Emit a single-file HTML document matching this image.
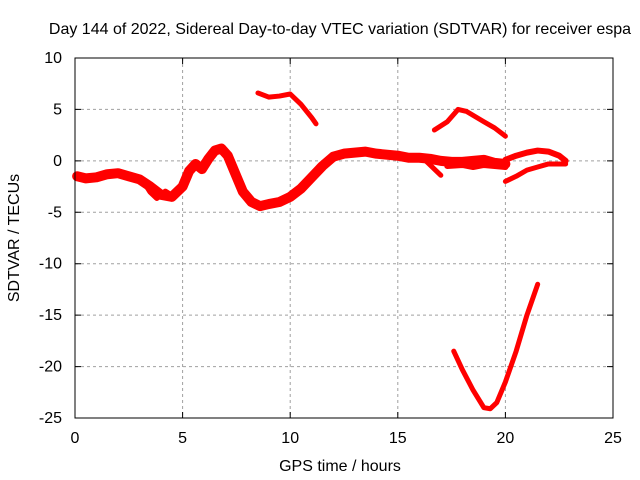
<!DOCTYPE html>
<html><head><meta charset="utf-8"><style>
body{margin:0;background:#fff}
svg{display:block;font-family:"Liberation Sans",sans-serif}
</style></head><body>
<svg id="c" width="640" height="480">
<rect width="640" height="480" fill="#fff"/>
<text x="340" y="34" font-size="16" text-anchor="middle">Day 144 of 2022, Sidereal Day-to-day VTEC variation (SDTVAR) for receiver espa</text>
<text x="340" y="471" font-size="16" text-anchor="middle">GPS time / hours</text>
<text transform="translate(19,238) rotate(-90)" font-size="16" text-anchor="middle">SDTVAR / TECUs</text>
<g id="grid"></g><g id="series"></g>
<rect x="75" y="58" width="538" height="360" fill="none" stroke="#000" stroke-width="1"/>
</svg>
<script>
const xTicks=[0,5,10,15,20,25];
const yTicks=[10,5,0,-5,-10,-15,-20,-25];
const mainT=[0.1,0.5,1,1.5,2,2.5,3,3.5,4,4.5,5,5.3,5.6,5.9,6.2,6.5,6.8,7.1,7.5,7.8,8.2,8.6,9,9.5,10,10.5,11,11.5,12,12.5,13,13.5,14,15,15.5,16,16.5,17,17.5,18,18.5,19,19.5,20];
const mainV=[-1.5,-1.7,-1.6,-1.3,-1.2,-1.5,-1.8,-2.5,-3.3,-3.5,-2.5,-1.0,-0.3,-0.8,0.2,1.0,1.2,0.5,-1.5,-3.0,-4.0,-4.4,-4.2,-4.0,-3.5,-2.7,-1.6,-0.5,0.4,0.7,0.8,0.9,0.7,0.5,0.3,0.3,0.2,0.0,-0.1,-0.1,0.0,0.1,-0.2,-0.3];
const loopT=[3.2,3.5,3.8,4.2,4.5];
const loopV=[-2.0,-3.0,-3.6,-3.0,-3.4];
const dipT=[16.3,16.8,17.0];
const dipV=[0.0,-1.0,-1.4];
const lowT=[17.3,18,18.5,19,19.5,20];
const lowV=[-0.5,-0.4,-0.6,-0.4,-0.5,-0.6];
const bT=[8.5,9,9.5,10,10.5,11,11.2];
const bV=[6.6,6.2,6.3,6.5,5.5,4.2,3.6];
const cT=[16.7,17.3,17.8,18.2,19,19.5,20];
const cV=[3.0,3.8,5.0,4.8,3.8,3.2,2.4];
const dT=[20,20.5,21,21.5,22,22.5,22.8];
const dV=[0.1,0.5,0.8,1.0,0.9,0.5,0.0];
const eT=[20,20.5,21,21.5,22,22.8];
const eV=[-2.0,-1.5,-0.9,-0.6,-0.3,-0.3];
const fT=[17.6,18,18.5,19,19.3,19.6,20,20.5,21,21.5];
const fV=[-18.5,-20.3,-22.3,-24,-24.1,-23.5,-21.5,-18.5,-15,-12];
const seriesList=[[mainT,mainV,'main-series',10],[loopT,loopV,'loop-series',6],[dipT,dipV,'dip-series',5],[lowT,lowV,'low-series',6],[bT,bV,'arc-series-9h',5],[cT,cV,'arc-series-18h',5],[dT,dV,'upper-series-21h',6],[eT,eV,'lower-series-21h',5],[fT,fV,'v-series',5]];
const X=t=>75+t*538/25, Y=v=>58+(10-v)*360/35;
const NS='http://www.w3.org/2000/svg';
const g=document.getElementById('grid'), s=document.getElementById('series'), svg=document.getElementById('c');
function mk(tag,attrs,parent){const e=document.createElementNS(NS,tag);for(const k in attrs)e.setAttribute(k,attrs[k]);parent.appendChild(e);return e;}
xTicks.forEach(t=>{
 if(t>0&&t<25){const l=mk('line',{x1:X(t),x2:X(t),y1:58,y2:418,stroke:'#a0a0a0','stroke-dasharray':'3,3'},g);
 
 }
 const tk=mk('path',{d:`M${X(t)},418v-6M${X(t)},58v6`,stroke:'#000'},g);
 
 
 const tx=mk('text',{x:X(t),y:443,'font-size':16,'text-anchor':'middle'},svg);tx.textContent=t;
 
 
});
yTicks.forEach(v=>{
 if(v<10&&v>-25){const l=mk('line',{x1:75,x2:613,y1:Y(v),y2:Y(v),stroke:'#a0a0a0','stroke-dasharray':'3,3'},g);
 
 }
 const tk=mk('path',{d:`M75,${Y(v)}h6M613,${Y(v)}h-6`,stroke:'#000'},g);
 
 
 const tx=mk('text',{x:62,y:Y(v)+5,'font-size':16,'text-anchor':'end'},svg);tx.textContent=v;
 
 
});
seriesList.forEach(([T,V,name,w])=>{
 const p=mk('polyline',{points:T.map((t,i)=>X(t)+','+Y(V[i])).join(' '),fill:'none',stroke:'#ff0000','stroke-width':w,'stroke-linejoin':'round','stroke-linecap':'round'},s);
 
 
});
</script>
</body></html>
